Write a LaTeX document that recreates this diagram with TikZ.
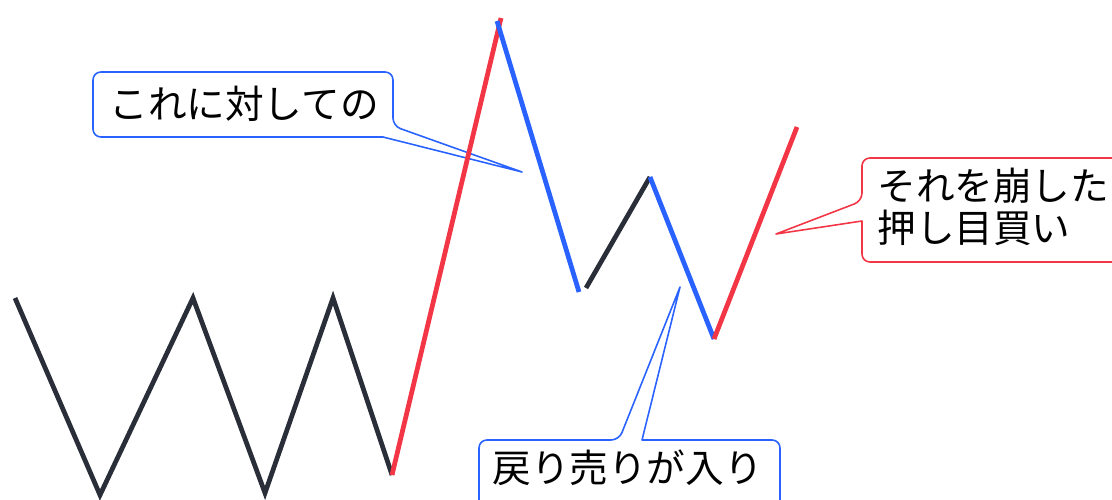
\documentclass[tikz,border=0pt]{standalone}
\usepackage{fontspec}
\newfontfamily\jpfont{Noto Sans CJK JP}
\definecolor{upred}{HTML}{F23645}
\definecolor{downblue}{HTML}{2962FF}
\definecolor{flatblack}{HTML}{2A2E39}
\tikzset{
  leg/.style={line width=2.7pt},
  balloon/.style={line width=0.9pt, line join=round},
  memo/.style={font=\jpfont\fontsize{22}{24}\selectfont, inner sep=0pt, anchor=west, align=left},
}

\begin{document}
\begin{tikzpicture}[x=0.02cm, y=-0.02cm]
        \useasboundingbox (0,0) rectangle (1112,500);

        % 吹き出しの文字
        \node[memo] (t1) at (109,104) {これに対しての};
        \node[memo] (t2) at (877,207) {それを崩した\\押し目買い};
        \node[memo] (t3) at (492,468) {戻り売りが入り};

        % 吹き出しの先端
        \coordinate (tip1) at (522,172);
        \coordinate (tip2) at (776,234);
        \coordinate (tip3) at (680,287);

        % 吹き出しの枠(角丸)
        \draw[balloon, downblue] (tip1) -- (383,137) [rounded corners=4.5pt]
            -- (93,137) -- (93,72) -- (393,72) -- (393,126) [sharp corners] -- cycle;
        \draw[balloon, upred] (tip2) -- (862,221) [rounded corners=4.5pt]
            -- (862,262) -- (1130,262) -- (1130,158) -- (862,158) -- (862,201) [sharp corners] -- cycle;
        \draw[balloon, downblue] (tip3) -- (642,440) [rounded corners=4.5pt]
            -- (780,440) -- (780,520) -- (479,520) -- (479,440) -- (619,440) [sharp corners] -- cycle;

        % ジグザグの頂点
        \coordinate (p0) at (15,298);
        \coordinate (p1) at (100,495);
        \coordinate (p2) at (193,298);
        \coordinate (p3) at (265,493);
        \coordinate (p4) at (333,298);
        \coordinate (p5) at (392,475);
        \coordinate (p6) at (501,18);
        \coordinate (q6) at (497,21);
        \coordinate (p7) at (579,292);
        \coordinate (q7) at (586,288);
        \coordinate (p8) at (650,177);
        \coordinate (p9) at (714,339);
        \coordinate (p10) at (797,127);

        \draw[leg, flatblack] (p0) -- (p1) -- (p2) -- (p3) -- (p4) -- (p5);
        \draw[leg, upred] (p5) -- (p6);
        \draw[leg, downblue] (q6) -- (p7);
        \draw[leg, flatblack] (q7) -- (p8);
        \draw[leg, downblue] (p8) -- (p9);
        \draw[leg, upred] (p9) -- (p10);
    \end{tikzpicture}
\end{document}
